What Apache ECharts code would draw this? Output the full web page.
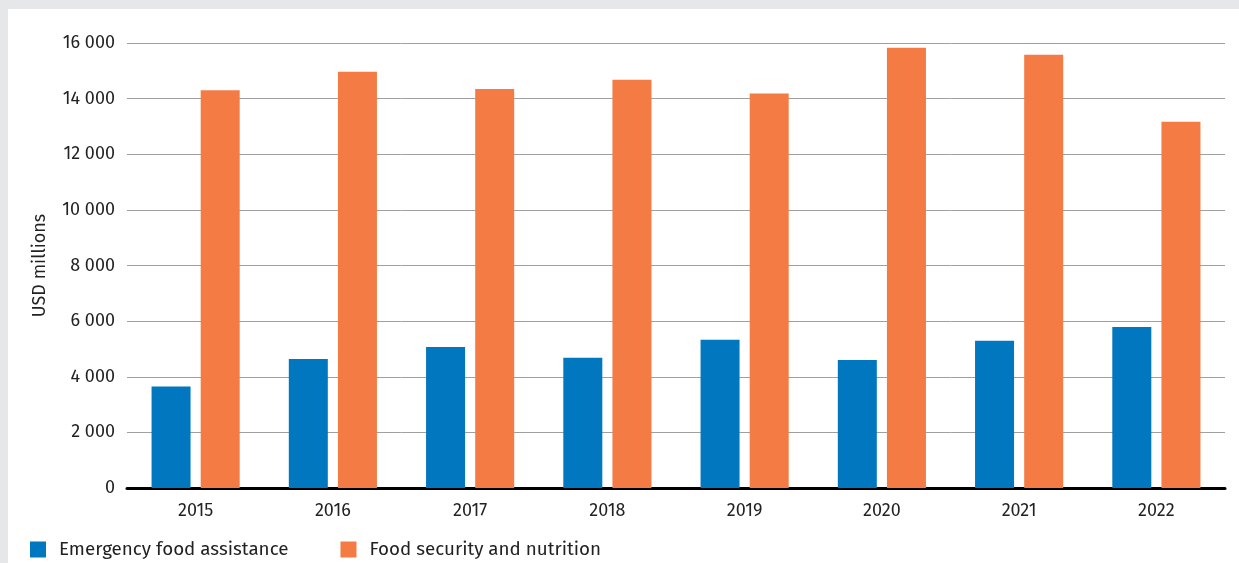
<!DOCTYPE html>
<html>
<head>
<meta charset="utf-8">
<script src="https://cdn.jsdelivr.net/npm/echarts@6/dist/echarts.min.js"></script>
<style>
  body { margin: 0; background: #e6e7e8; width: 1239px; height: 563px; overflow: hidden; }
  #chart { position: absolute; left: 8px; top: 9px; width: 1231px; height: 554px; background: #fff; }
</style>
</head>
<body>
<div id="chart"></div>
<script>
var years = ['2015', '2016', '2017', '2018', '2019', '2020', '2021', '2022'];
var emergency = [3650, 4640, 5070, 4680, 5330, 4600, 5290, 5790];
var foodSecurity = [14300, 14970, 14350, 14680, 14180, 15830, 15580, 13170];

var fontName = '"Fira Sans", "Noto Sans", sans-serif';

function fmt(v) {
    return String(v).replace(/\B(?=(\d{3})+(?!\d))/g, ' ');
}

var option = {
    animation: false,
    textStyle: { fontFamily: fontName },
    grid: {
        left: 119,
        right: 14,
        top: 34,
        bottom: 75
    },
    legend: {
        left: 17,
        top: 526,
        itemWidth: 16,
        itemHeight: 16,
        itemGap: 52,
        icon: 'rect',
        textStyle: {
            fontSize: 18.8,
            color: '#222',
            fontFamily: fontName,
            padding: [0, 0, 0, 8]
        },
        data: ['Emergency food assistance', 'Food security and nutrition']
    },
    xAxis: {
        type: 'category',
        data: years,
        axisLine: { show: true, lineStyle: { color: '#000', width: 3 } },
        axisTick: { show: false },
        axisLabel: { fontSize: 18, color: '#222', margin: 14 }
    },
    yAxis: {
        type: 'value',
        min: 0,
        max: 16000,
        interval: 2000,
        name: 'USD millions',
        nameLocation: 'middle',
        nameRotate: 90,
        nameGap: 78,
        nameTextStyle: { fontSize: 18, color: '#222' },
        axisLine: { show: false },
        axisTick: { show: false },
        axisLabel: { fontSize: 18, color: '#222', margin: 12, formatter: fmt },
        splitLine: { show: true, lineStyle: { color: '#a0a0a0', width: 1 } }
    },
    series: [{
        name: 'Emergency food assistance',
        type: 'bar',
        data: emergency,
        barWidth: 39,
        barGap: '26%',
        itemStyle: { color: '#0077be' }
    },
    {
        name: 'Food security and nutrition',
        type: 'bar',
        data: foodSecurity,
        barWidth: 39,
        itemStyle: { color: '#f47b43' }
    }]
};

var dom = document.getElementById('chart');
var myChart = echarts.init(dom);
myChart.setOption(option);
</script>
</body>
</html>
